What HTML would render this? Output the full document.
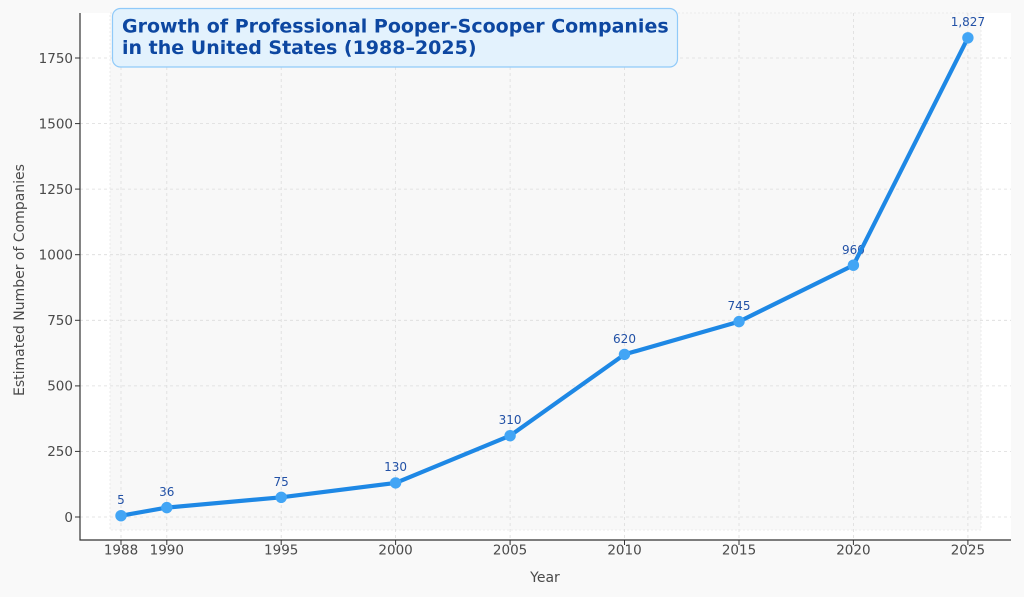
<!DOCTYPE html>
<html>
<head>
<meta charset="utf-8">
<style>
html,body{margin:0;padding:0;background:#f9f9f9;}
svg{display:block;font-family:"DejaVu Sans","Liberation Sans",sans-serif;}
</style>
</head>
<body>
<svg width="1024" height="597" viewBox="0 0 1024 597" xmlns="http://www.w3.org/2000/svg">
<rect x="0" y="0" width="1024" height="597" fill="#f9f9f9"/>
<!-- axes area -->
<rect x="80" y="13" width="931" height="527" fill="#ffffff"/>
<rect x="110" y="13" width="871" height="517" fill="#f8f8f8" stroke="#e6e6e6" stroke-width="0.8" stroke-dasharray="2,2"/>
<!-- grid -->
<g stroke="#dcdcdc" stroke-width="0.8" stroke-dasharray="3,3" fill="none">
<line x1="80" x2="1011" y1="517" y2="517"/>
<line x1="80" x2="1011" y1="451.4" y2="451.4"/>
<line x1="80" x2="1011" y1="385.9" y2="385.9"/>
<line x1="80" x2="1011" y1="320.3" y2="320.3"/>
<line x1="80" x2="1011" y1="254.7" y2="254.7"/>
<line x1="80" x2="1011" y1="189.1" y2="189.1"/>
<line x1="80" x2="1011" y1="123.6" y2="123.6"/>
<line x1="80" x2="1011" y1="58" y2="58"/>
<line x1="121" x2="121" y1="13" y2="540"/>
<line x1="166.8" x2="166.8" y1="13" y2="540"/>
<line x1="281.2" x2="281.2" y1="13" y2="540"/>
<line x1="395.6" x2="395.6" y1="13" y2="540"/>
<line x1="510.1" x2="510.1" y1="13" y2="540"/>
<line x1="624.5" x2="624.5" y1="13" y2="540"/>
<line x1="739" x2="739" y1="13" y2="540"/>
<line x1="853.4" x2="853.4" y1="13" y2="540"/>
<line x1="967.9" x2="967.9" y1="13" y2="540"/>
</g>
<!-- spines -->
<line x1="80" x2="80" y1="13" y2="540.5" stroke="#333" stroke-width="1.2"/>
<line x1="79.5" x2="1011" y1="540" y2="540" stroke="#333" stroke-width="1.2"/>
<!-- ticks -->
<g stroke="#333" stroke-width="1">
<line x1="75" x2="80" y1="517" y2="517"/>
<line x1="75" x2="80" y1="451.4" y2="451.4"/>
<line x1="75" x2="80" y1="385.9" y2="385.9"/>
<line x1="75" x2="80" y1="320.3" y2="320.3"/>
<line x1="75" x2="80" y1="254.7" y2="254.7"/>
<line x1="75" x2="80" y1="189.1" y2="189.1"/>
<line x1="75" x2="80" y1="123.6" y2="123.6"/>
<line x1="75" x2="80" y1="58" y2="58"/>
<line x1="121" x2="121" y1="540" y2="545"/>
<line x1="166.8" x2="166.8" y1="540" y2="545"/>
<line x1="281.2" x2="281.2" y1="540" y2="545"/>
<line x1="395.6" x2="395.6" y1="540" y2="545"/>
<line x1="510.1" x2="510.1" y1="540" y2="545"/>
<line x1="624.5" x2="624.5" y1="540" y2="545"/>
<line x1="739" x2="739" y1="540" y2="545"/>
<line x1="853.4" x2="853.4" y1="540" y2="545"/>
<line x1="967.9" x2="967.9" y1="540" y2="545"/>
</g>
<g fill="#4a4a4a" font-size="13.5" text-anchor="end">
<text x="73" y="521.8">0</text>
<text x="73" y="456.2">250</text>
<text x="73" y="390.7">500</text>
<text x="73" y="325.1">750</text>
<text x="73" y="259.5">1000</text>
<text x="73" y="193.9">1250</text>
<text x="73" y="128.4">1500</text>
<text x="73" y="62.8">1750</text>
</g>
<g fill="#4a4a4a" font-size="13.5" text-anchor="middle">
<text x="121" y="554.5">1988</text>
<text x="166.8" y="554.5">1990</text>
<text x="281.2" y="554.5">1995</text>
<text x="395.6" y="554.5">2000</text>
<text x="510.1" y="554.5">2005</text>
<text x="624.5" y="554.5">2010</text>
<text x="739" y="554.5">2015</text>
<text x="853.4" y="554.5">2020</text>
<text x="967.9" y="554.5">2025</text>
</g>
<text x="545" y="582" fill="#4a4a4a" font-size="14" text-anchor="middle">Year</text>
<text transform="translate(24,280) rotate(-90)" fill="#4a4a4a" font-size="14" text-anchor="middle">Estimated Number of Companies</text>
<!-- data labels -->
<g fill="#2251a6" font-size="12" text-anchor="middle">
<text x="121" y="504">5</text>
<text x="166.8" y="496">36</text>
<text x="281.2" y="486">75</text>
<text x="395.6" y="471">130</text>
<text x="510.1" y="424">310</text>
<text x="624.5" y="343">620</text>
<text x="739" y="310">745</text>
<text x="853.4" y="254">960</text>
<text x="967.9" y="26">1,827</text>
</g>
<!-- series -->
<polyline fill="none" stroke="#1e88e5" stroke-width="4.2" stroke-linejoin="round" stroke-linecap="round"
points="121,515.7 166.8,507.6 281.2,497.3 395.6,482.9 510.1,435.7 624.5,354.4 739,321.6 853.4,265.2 967.9,37.8"/>
<g fill="#42a5f5">
<circle cx="121" cy="515.7" r="5.7"/>
<circle cx="166.8" cy="507.6" r="5.7"/>
<circle cx="281.2" cy="497.3" r="5.7"/>
<circle cx="395.6" cy="482.9" r="5.7"/>
<circle cx="510.1" cy="435.7" r="5.7"/>
<circle cx="624.5" cy="354.4" r="5.7"/>
<circle cx="739" cy="321.6" r="5.7"/>
<circle cx="853.4" cy="265.2" r="5.7"/>
<circle cx="967.9" cy="37.8" r="5.7"/>
</g>
<!-- title box -->
<rect x="112.5" y="8.5" width="565" height="58.5" rx="8" ry="8" fill="#e3f2fd" stroke="#90caf9" stroke-width="1.2"/>
<g fill="#0d47a1" font-size="19" font-weight="bold">
<text x="122" y="32.5">Growth of Professional Pooper-Scooper Companies</text>
<text x="122" y="54">in the United States (1988–2025)</text>
</g>
</svg>
</body>
</html>
